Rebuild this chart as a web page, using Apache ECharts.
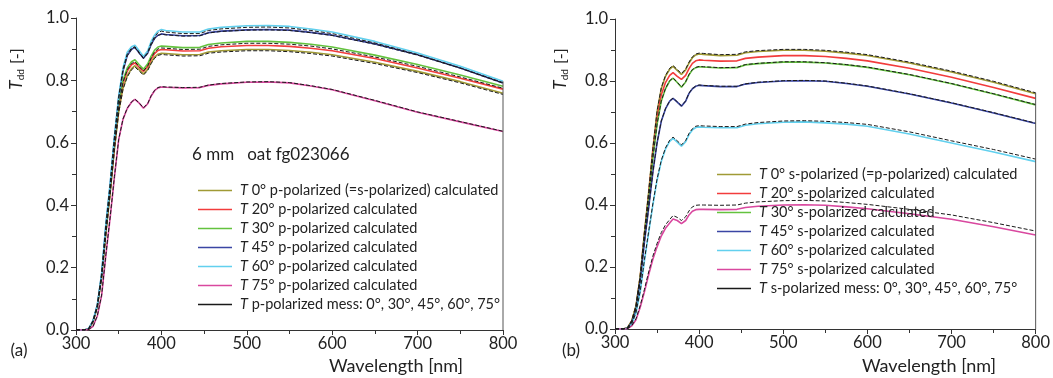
<!DOCTYPE html>
<html><head><meta charset="utf-8">
<script src="https://cdn.jsdelivr.net/npm/echarts@6/dist/echarts.min.js"></script>
<style>html,body{margin:0;padding:0;background:#fff}#c{width:1053px;height:378px}</style>
</head><body><div id="c"></div>
<script>
const wl = [300,310,315,320,325,330,335,340,345,350,355,360,365,369,374,379,384,388,392,396,400,405,425,445,455,470,500,525,550,575,600,650,700,750,800];
const xTicks = [300,400,500,600,700,800];
const yTicks = [0,0.2,0.4,0.6,0.8,1.0];

// (a) p-polarized, calculated
const p0  = [0,0,0.004,0.027,0.075,0.17,0.31,0.44,0.58,0.7,0.775,0.815,0.838,0.847,0.834,0.821,0.836,0.858,0.875,0.884,0.887,0.886,0.882,0.883,0.891,0.895,0.899,0.899,0.896,0.89,0.882,0.858,0.829,0.796,0.759];
const p20 = [0,0,0.004,0.027,0.076,0.172,0.315,0.445,0.59,0.71,0.79,0.83,0.85,0.856,0.842,0.829,0.845,0.868,0.886,0.896,0.899,0.898,0.894,0.895,0.903,0.908,0.912,0.912,0.909,0.903,0.895,0.87,0.84,0.807,0.772];
const p30 = [0,0,0.004,0.028,0.077,0.175,0.32,0.45,0.6,0.72,0.8,0.84,0.86,0.866,0.85,0.836,0.853,0.878,0.897,0.907,0.91,0.909,0.905,0.906,0.915,0.92,0.925,0.925,0.922,0.916,0.907,0.881,0.851,0.817,0.781];
const p45 = [0,0,0.005,0.03,0.08,0.178,0.335,0.465,0.615,0.745,0.83,0.88,0.9,0.906,0.888,0.871,0.888,0.915,0.935,0.945,0.949,0.947,0.943,0.944,0.953,0.958,0.962,0.963,0.961,0.954,0.945,0.917,0.882,0.84,0.792];
const p60 = [0,0,0.005,0.03,0.08,0.18,0.34,0.47,0.62,0.75,0.84,0.89,0.908,0.913,0.895,0.877,0.895,0.925,0.945,0.958,0.963,0.96,0.955,0.955,0.965,0.97,0.975,0.976,0.973,0.965,0.955,0.925,0.888,0.845,0.797];
const p75 = [0,0,0.002,0.012,0.045,0.11,0.24,0.36,0.49,0.61,0.675,0.71,0.73,0.739,0.727,0.711,0.725,0.75,0.767,0.776,0.779,0.778,0.776,0.777,0.784,0.789,0.794,0.795,0.792,0.782,0.77,0.735,0.698,0.667,0.636];
// (a) p-polarized, measured
const mp0  = [0,0,0.004,0.026,0.073,0.167,0.306,0.436,0.576,0.696,0.771,0.811,0.834,0.843,0.83,0.817,0.832,0.854,0.871,0.88,0.883,0.882,0.878,0.879,0.887,0.891,0.895,0.895,0.892,0.886,0.878,0.854,0.825,0.792,0.755];
const mp30 = [0,0,0.004,0.027,0.075,0.172,0.315,0.445,0.594,0.714,0.794,0.834,0.854,0.86,0.844,0.83,0.847,0.872,0.891,0.901,0.904,0.903,0.899,0.9,0.909,0.914,0.919,0.919,0.916,0.91,0.901,0.875,0.845,0.811,0.775];
const mp45 = [0,0,0.005,0.03,0.08,0.177,0.334,0.464,0.614,0.744,0.829,0.879,0.899,0.905,0.887,0.87,0.887,0.914,0.934,0.944,0.948,0.946,0.942,0.943,0.952,0.957,0.961,0.962,0.96,0.953,0.944,0.916,0.881,0.839,0.791];
const mp60 = [0,0,0.005,0.03,0.079,0.178,0.336,0.466,0.616,0.746,0.836,0.885,0.903,0.908,0.89,0.872,0.89,0.92,0.94,0.953,0.958,0.955,0.95,0.95,0.96,0.965,0.97,0.971,0.968,0.96,0.95,0.92,0.883,0.84,0.793];
const mp75 = [0,0,0.002,0.012,0.046,0.112,0.242,0.362,0.492,0.611,0.676,0.711,0.731,0.74,0.728,0.712,0.726,0.751,0.768,0.777,0.78,0.779,0.777,0.778,0.785,0.79,0.795,0.796,0.793,0.783,0.771,0.736,0.699,0.668,0.637];

// (b) s-polarized, calculated (0° is identical to p-polarized)
const s0  = p0;
const s20 = [0,0,0.004,0.026,0.073,0.168,0.305,0.43,0.57,0.68,0.755,0.795,0.818,0.827,0.815,0.805,0.818,0.84,0.857,0.865,0.868,0.867,0.864,0.865,0.873,0.877,0.882,0.882,0.879,0.873,0.865,0.841,0.812,0.779,0.744];
const s30 = [0,0,0.004,0.025,0.071,0.165,0.3,0.42,0.55,0.66,0.735,0.775,0.8,0.809,0.795,0.78,0.797,0.82,0.836,0.843,0.846,0.845,0.842,0.843,0.852,0.856,0.861,0.861,0.858,0.852,0.844,0.82,0.791,0.758,0.723];
const s45 = [0,0,0.003,0.022,0.064,0.155,0.28,0.39,0.505,0.6,0.67,0.71,0.735,0.744,0.732,0.719,0.735,0.76,0.775,0.783,0.786,0.785,0.782,0.782,0.79,0.795,0.8,0.801,0.799,0.792,0.783,0.758,0.729,0.697,0.663];
const s60 = [0,0,0.002,0.016,0.052,0.12,0.22,0.31,0.4,0.48,0.54,0.58,0.605,0.615,0.603,0.59,0.604,0.627,0.642,0.65,0.652,0.651,0.649,0.649,0.657,0.662,0.667,0.668,0.665,0.661,0.654,0.629,0.6,0.571,0.54];
const s75 = [0,0,0.001,0.01,0.03,0.07,0.12,0.175,0.225,0.265,0.3,0.325,0.342,0.355,0.35,0.34,0.35,0.368,0.38,0.385,0.386,0.386,0.385,0.386,0.392,0.396,0.4,0.401,0.399,0.394,0.388,0.372,0.354,0.33,0.303];
// (b) s-polarized, measured
const ms0  = [0,0,0.004,0.028,0.077,0.173,0.313,0.443,0.583,0.703,0.778,0.818,0.841,0.85,0.837,0.824,0.839,0.861,0.878,0.887,0.89,0.889,0.885,0.886,0.894,0.898,0.902,0.902,0.899,0.893,0.885,0.861,0.832,0.799,0.762];
const ms30 = [0,0,0.004,0.026,0.072,0.166,0.301,0.421,0.551,0.661,0.736,0.776,0.801,0.81,0.796,0.781,0.798,0.821,0.837,0.844,0.847,0.846,0.843,0.844,0.853,0.857,0.862,0.862,0.859,0.853,0.845,0.821,0.792,0.759,0.724];
const ms45 = [0,0,0.003,0.023,0.065,0.156,0.281,0.391,0.506,0.601,0.671,0.711,0.736,0.745,0.733,0.72,0.736,0.761,0.776,0.784,0.787,0.786,0.783,0.783,0.791,0.796,0.801,0.802,0.8,0.793,0.784,0.759,0.73,0.698,0.664];
const ms60 = [0,0,0.002,0.017,0.054,0.123,0.224,0.314,0.404,0.484,0.544,0.584,0.609,0.619,0.607,0.594,0.608,0.631,0.646,0.654,0.656,0.655,0.653,0.653,0.661,0.666,0.671,0.672,0.67,0.666,0.66,0.636,0.607,0.579,0.548];
const ms75 = [0,0,0.001,0.011,0.033,0.076,0.128,0.184,0.235,0.276,0.311,0.336,0.353,0.366,0.36,0.35,0.362,0.381,0.394,0.399,0.4,0.4,0.399,0.4,0.406,0.41,0.414,0.415,0.413,0.408,0.402,0.386,0.368,0.343,0.316];

const namesA = ['T 0° p-polarized (=s-polarized) calculated','T 20° p-polarized calculated','T 30° p-polarized calculated','T 45° p-polarized calculated','T 60° p-polarized calculated','T 75° p-polarized calculated','T p-polarized mess: 0°, 30°, 45°, 60°, 75°'];
const namesB = ['T 0° s-polarized (=p-polarized) calculated','T 20° s-polarized calculated','T 30° s-polarized calculated','T 45° s-polarized calculated','T 60° s-polarized calculated','T 75° s-polarized calculated','T s-polarized mess: 0°, 30°, 45°, 60°, 75°'];
const sampleText = '6 mm   oat fg023066';

const COLORS = ['#a09a35','#f23c3c','#63c23e','#3a46a4','#62d0ee','#d9489f','#1a1a1a'];
const FONT = 'Lato';

function mk(name, vals, color, gi, width, z, dash){
  return {name:name, type:'line', xAxisIndex:gi, yAxisIndex:gi, symbol:'none', showSymbol:false, animation:false, z:z,
    data: wl.map((w,i)=>[w, vals[i]]), lineStyle:{color:color, width:width, type:dash}, itemStyle:{color:color}};
}
const series = [];
[p0,p20,p30,p45,p60,p75].forEach((v,i)=>series.push(mk(namesA[i], v, COLORS[i], 0, 1.6, 2, 'solid')));
[mp0,mp30,mp45,mp60,mp75].forEach(v=>series.push(mk(namesA[6], v, COLORS[6], 0, 1, 3, [4,2])));
[s0,s20,s30,s45,s60,s75].forEach((v,i)=>series.push(mk(namesB[i], v, COLORS[i], 1, 1.6, 2, 'solid')));
[ms0,ms30,ms45,ms60,ms75].forEach(v=>series.push(mk(namesB[6], v, COLORS[6], 1, 1, 3, [4,2])));
// right-hand edge lines of both plots at the last wavelength
const last = wl.length - 1;
series.push({type:'line', xAxisIndex:0, yAxisIndex:0, symbol:'none', silent:true, animation:false,
  data:[[wl[last],0],[wl[last],p60[last]]], lineStyle:{color:'#555', width:1}});
series.push({type:'line', xAxisIndex:1, yAxisIndex:1, symbol:'none', silent:true, animation:false,
  data:[[wl[last],0],[wl[last],ms0[last]]], lineStyle:{color:'#555', width:1}});

function xAx(gi){ return {gridIndex:gi, type:'value', min:xTicks[0], max:xTicks[xTicks.length-1], interval:xTicks[1]-xTicks[0],
  axisLine:{show:true, onZero:false, lineStyle:{color:'#333', width:1}},
  axisTick:{show:true, inside:false, length:5, lineStyle:{color:'#333'}},
  minorTick:{show:true, splitNumber:2, length:4, lineStyle:{color:'#333'}},
  splitLine:{show:false},
  axisLabel:{color:'#222', fontSize:16.5, fontFamily:FONT, margin:5}}; }
function yAx(gi){ return {gridIndex:gi, type:'value', min:yTicks[0], max:yTicks[yTicks.length-1], interval:yTicks[1]-yTicks[0],
  axisLine:{show:true, onZero:false, lineStyle:{color:'#333', width:1}},
  axisTick:{show:true, inside:false, length:5, lineStyle:{color:'#333'}},
  minorTick:{show:true, splitNumber:2, length:4, lineStyle:{color:'#333'}},
  splitLine:{show:false},
  axisLabel:{color:'#222', fontSize:16.5, fontFamily:FONT, margin:7, formatter:v=>v.toFixed(1)}}; }

function leg(names, left, top){ return {show:true, data:names, orient:'vertical', left:left, top:top, itemWidth:34, itemHeight:1.6, itemGap:2,
  icon:'rect', selectedMode:false,
  formatter:function(n){ return n.replace(/^T /, '{i|T} '); },
  textStyle:{fontFamily:FONT, fontSize:14.5, color:'#222', lineHeight:17, padding:[0,0,0,3],
    rich:{i:{fontStyle:'italic', fontFamily:FONT, fontSize:14.5, color:'#222', lineHeight:17}}}}; }

function yName(x, y){ return {type:'text', x:x, y:y, rotation:Math.PI/2,
  style:{text:'{i|T}{s|dd} [-]', align:'center', verticalAlign:'middle', fill:'#222', font:'16px '+FONT,
    rich:{i:{fontStyle:'italic', fontSize:17, fontFamily:FONT, fill:'#222'}, s:{fontSize:10, fontFamily:FONT, fill:'#222', padding:[7,1,0,0]}}}}; }
function txt(x, y, t, size){ return {type:'text', x:x, y:y, style:{text:t, align:'center', verticalAlign:'middle', fill:'#222', font:size+'px '+FONT}}; }

const option = {
  backgroundColor:'#fff',
  animation:false,
  grid:[{left:76, right:550, top:18, bottom:48}, {left:615, right:14, top:19, bottom:49}],
  xAxis:[xAx(0), xAx(1)],
  yAxis:[yAx(0), yAx(1)],
  legend:[leg(namesA, 193, 177), leg(namesB, 712, 161)],
  series:series,
  graphic:[
    yName(17, 69), yName(561, 69),
    txt(19, 351, '(a)', 17), txt(571, 351, '(b)', 17),
    txt(396, 366, 'Wavelength [nm]', 18), txt(929, 366, 'Wavelength [nm]', 18),
    {type:'text', x:192, y:155, style:{text:sampleText, align:'left', verticalAlign:'middle', fill:'#222', font:'17px '+FONT}}
  ]
};
const chart = echarts.init(document.getElementById('c'), null, {renderer:'canvas'});
chart.setOption(option);
</script></body></html>
